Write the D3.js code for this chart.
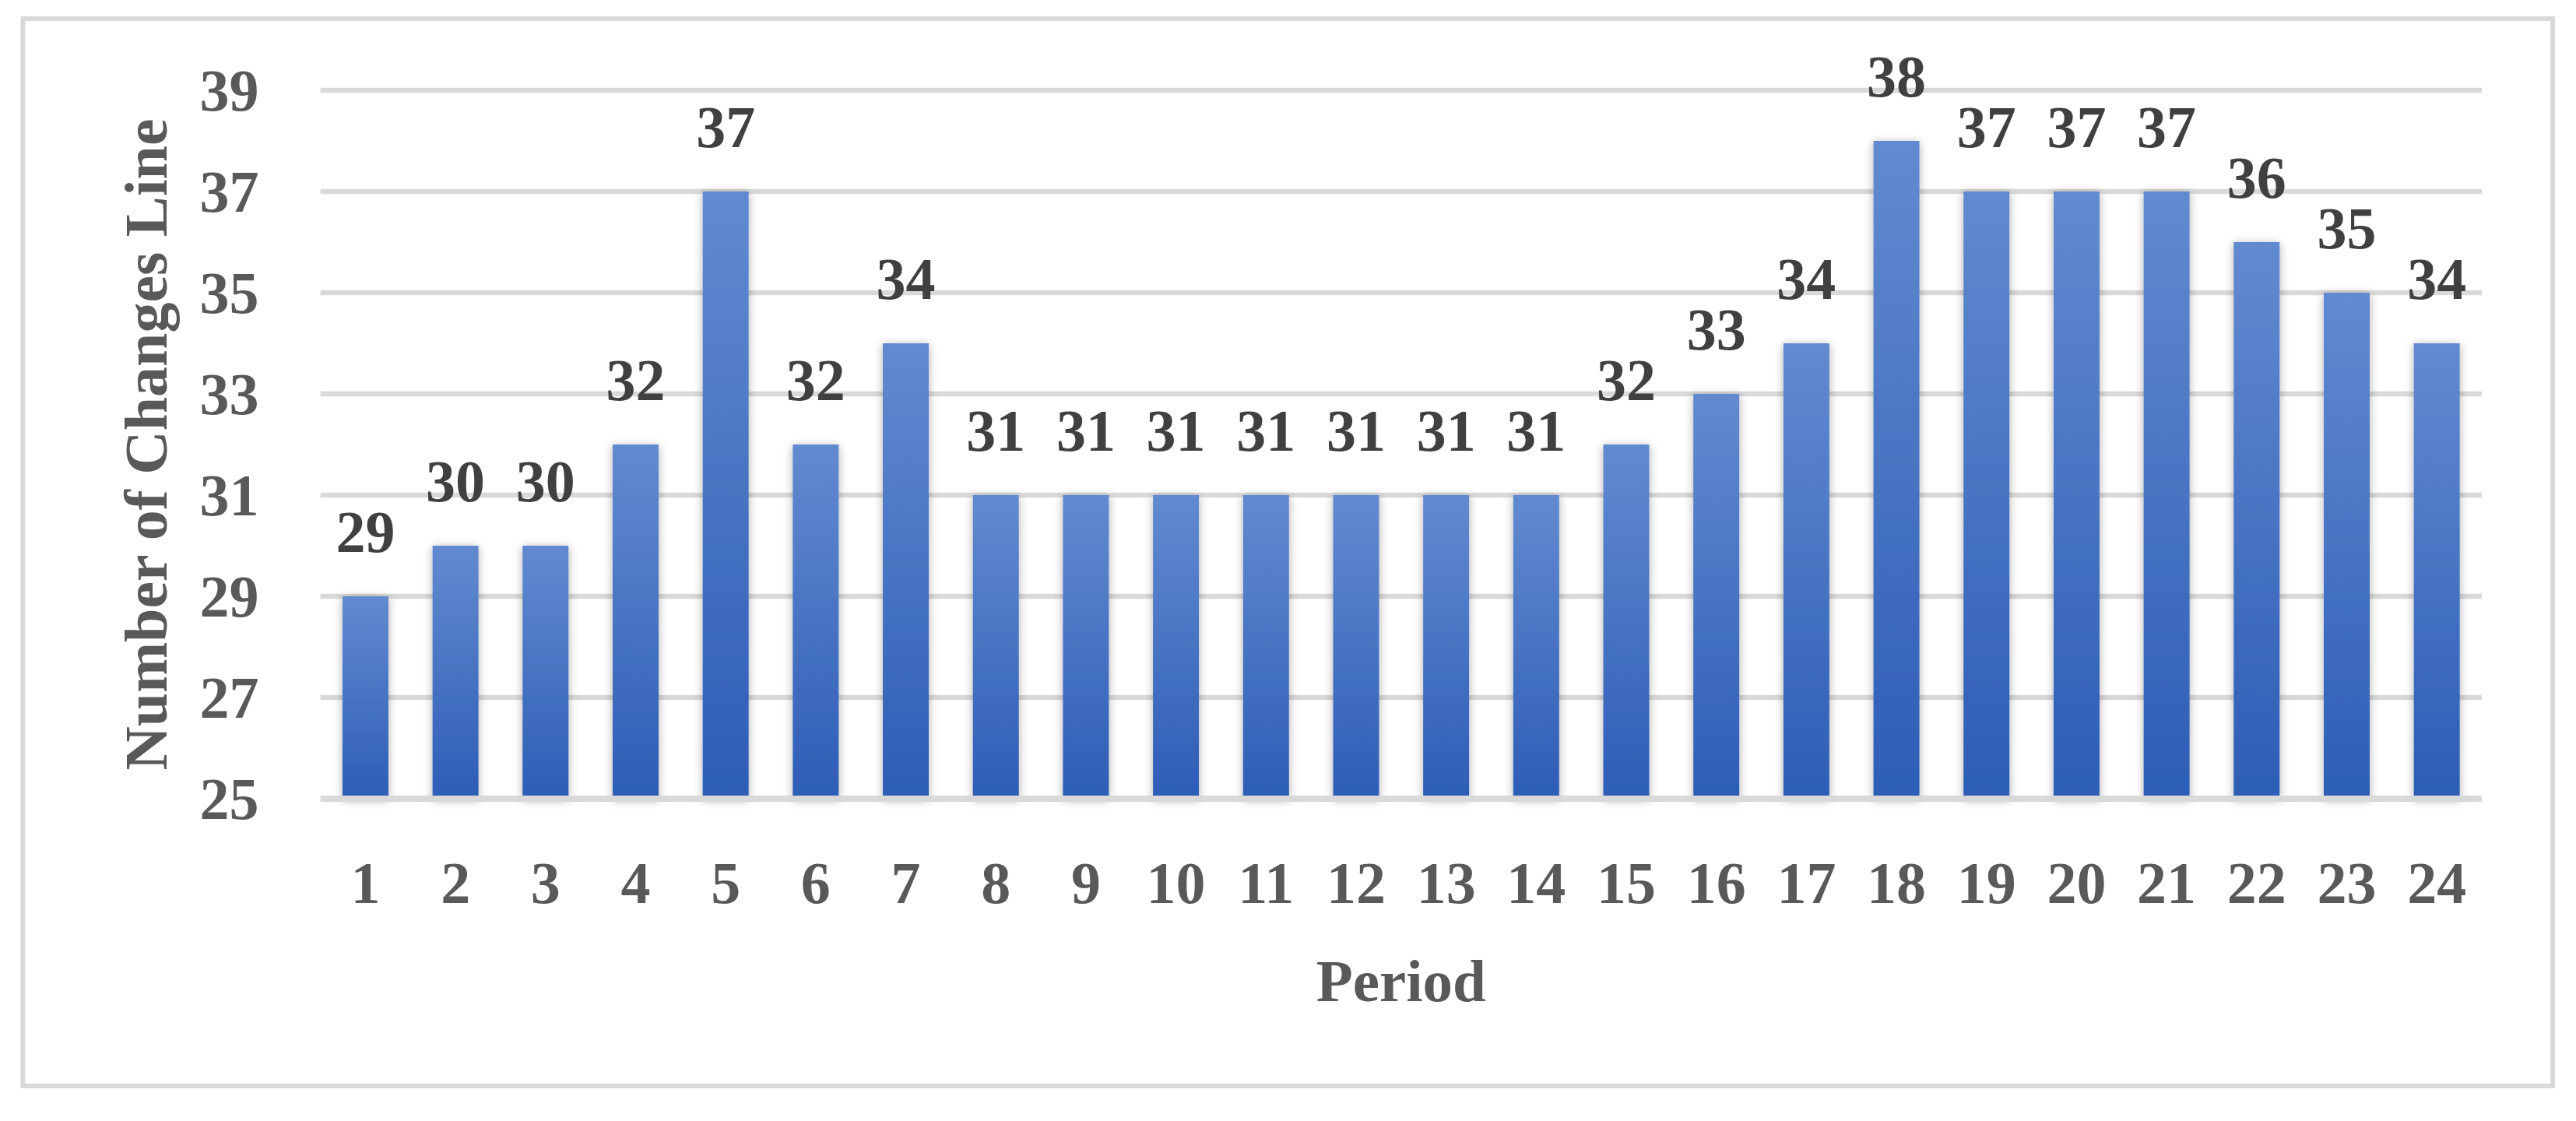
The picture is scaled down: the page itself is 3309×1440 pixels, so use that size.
<!DOCTYPE html>
<html>
<head>
<meta charset="utf-8">
<script src="https://cdn.jsdelivr.net/npm/d3@7"></script>
<style>
  body { margin: 0; background: #fff; }
  svg { display: block; }
</style>
</head>
<body>
<svg></svg>
<script>
const width = 3309;
const height = 1440;

// data
const periods = ["1","2","3","4","5","6","7","8","9","10","11","12","13","14","15","16","17","18","19","20","21","22","23","24"];
const changes = [29, 30, 30, 32, 37, 32, 34, 31, 31, 31, 31, 31, 31, 31, 32, 33, 34, 38, 37, 37, 37, 36, 35, 34];
const yTicks = [25, 27, 29, 31, 33, 35, 37, 39];
const yDomain = [25, 39];

let margin = {top: 116, right: 121, bottom: 414, left: 411.6},
    plotWidth = width - margin.left - margin.right,
    plotHeight = height - margin.top - margin.bottom;

const fontFamily = "'Palatino Linotype', 'Book Antiqua', 'Liberation Serif', serif";

const svg = d3.select("svg")
    .attr("width", width)
    .attr("height", height);

const defs = svg.append("defs");

// bar gradient
const grad = defs.append("linearGradient")
    .attr("id", "barGrad")
    .attr("x1", 0).attr("y1", 0)
    .attr("x2", 0).attr("y2", 1);
grad.append("stop").attr("offset", "0%").attr("stop-color", "#628ad0");
grad.append("stop").attr("offset", "100%").attr("stop-color", "#2d5db6");

// soft shadow around bars
const shadow = defs.append("filter")
    .attr("id", "barShadow")
    .attr("x", "-60%").attr("y", "-20%")
    .attr("width", "220%").attr("height", "140%");
shadow.append("feGaussianBlur")
    .attr("in", "SourceAlpha")
    .attr("stdDeviation", 6)
    .attr("result", "blur");
shadow.append("feOffset")
    .attr("in", "blur")
    .attr("dx", 0).attr("dy", 2)
    .attr("result", "off");
shadow.append("feFlood")
    .attr("flood-color", "#000")
    .attr("flood-opacity", 0.32);
shadow.append("feComposite")
    .attr("in2", "off")
    .attr("operator", "in")
    .attr("result", "shade");
const merge = shadow.append("feMerge");
merge.append("feMergeNode").attr("in", "shade");
merge.append("feMergeNode").attr("in", "SourceGraphic");

// outer frame
svg.append("rect")
    .attr("x", 29.5)
    .attr("y", 24)
    .attr("width", 3249.5)
    .attr("height", 1371)
    .attr("fill", "#fff")
    .attr("stroke", "#d9d9d9")
    .attr("stroke-width", 6);

const g = svg.append("g")
    .attr("transform", `translate(${margin.left}, ${margin.top})`);

const x = d3.scaleBand()
    .domain(periods)
    .range([0, plotWidth])
    .paddingInner(0.49)
    .paddingOuter(0.245);

const y = d3.scaleLinear()
    .domain(yDomain)
    .range([plotHeight, 0]);

// gridlines
g.append("g")
    .selectAll("line")
    .data(yTicks.filter(d => d !== yDomain[0]))
    .enter().append("line")
    .attr("x1", 0)
    .attr("x2", plotWidth)
    .attr("y1", d => y(d))
    .attr("y2", d => y(d))
    .attr("stroke", "#d9d9d9")
    .attr("stroke-width", 6.5);

// Y ticks
const yAxis = g.append("g")
    .call(d3.axisLeft(y).tickValues(yTicks).tickSize(0).tickPadding(79));
yAxis.select(".domain").remove();
yAxis.selectAll("text")
    .attr("font-family", fontFamily)
    .attr("font-size", "76px")
    .attr("font-weight", "bold")
    .attr("fill", "#595959")
    .attr("dy", "0.34em");

// bars
g.append("g")
    .selectAll("rect")
    .data(changes)
    .enter().append("rect")
    .attr("x", (d, i) => x(periods[i]))
    .attr("y", d => y(d))
    .attr("width", x.bandwidth())
    .attr("height", d => plotHeight - y(d))
    .attr("fill", "url(#barGrad)")
    .attr("filter", "url(#barShadow)");

// X axis line
g.append("line")
    .attr("x1", 0)
    .attr("x2", plotWidth)
    .attr("y1", plotHeight)
    .attr("y2", plotHeight)
    .attr("stroke", "#d9d9d9")
    .attr("stroke-width", 8);

// X ticks
const xAxis = g.append("g")
    .attr("transform", `translate(0, ${plotHeight})`)
    .call(d3.axisBottom(x).tickSize(0).tickPadding(0));
xAxis.select(".domain").remove();
xAxis.selectAll("text")
    .attr("y", 134)
    .attr("dy", 0)
    .attr("font-family", fontFamily)
    .attr("font-size", "76px")
    .attr("font-weight", "bold")
    .attr("fill", "#595959");

// data labels
g.append("g")
    .selectAll("text")
    .data(changes)
    .enter().append("text")
    .attr("x", (d, i) => x(periods[i]) + x.bandwidth() / 2)
    .attr("y", d => y(d) - 57)
    .attr("text-anchor", "middle")
    .attr("font-family", fontFamily)
    .attr("font-size", "76px")
    .attr("font-weight", "bold")
    .attr("fill", "#404040")
    .text(d => d);

// X label
g.append("text")
    .attr("x", plotWidth / 2)
    .attr("y", plotHeight + 260)
    .attr("text-anchor", "middle")
    .attr("font-family", fontFamily)
    .attr("font-size", "77px")
    .attr("font-weight", "bold")
    .attr("fill", "#595959")
    .text("Period");

// Y label
svg.append("text")
    .attr("transform", `translate(214, ${margin.top + plotHeight / 2}) rotate(-90)`)
    .attr("text-anchor", "middle")
    .attr("font-family", fontFamily)
    .attr("font-size", "78px")
    .attr("font-weight", "bold")
    .attr("fill", "#595959")
    .text("Number of Changes Line");
</script>
</body>
</html>
